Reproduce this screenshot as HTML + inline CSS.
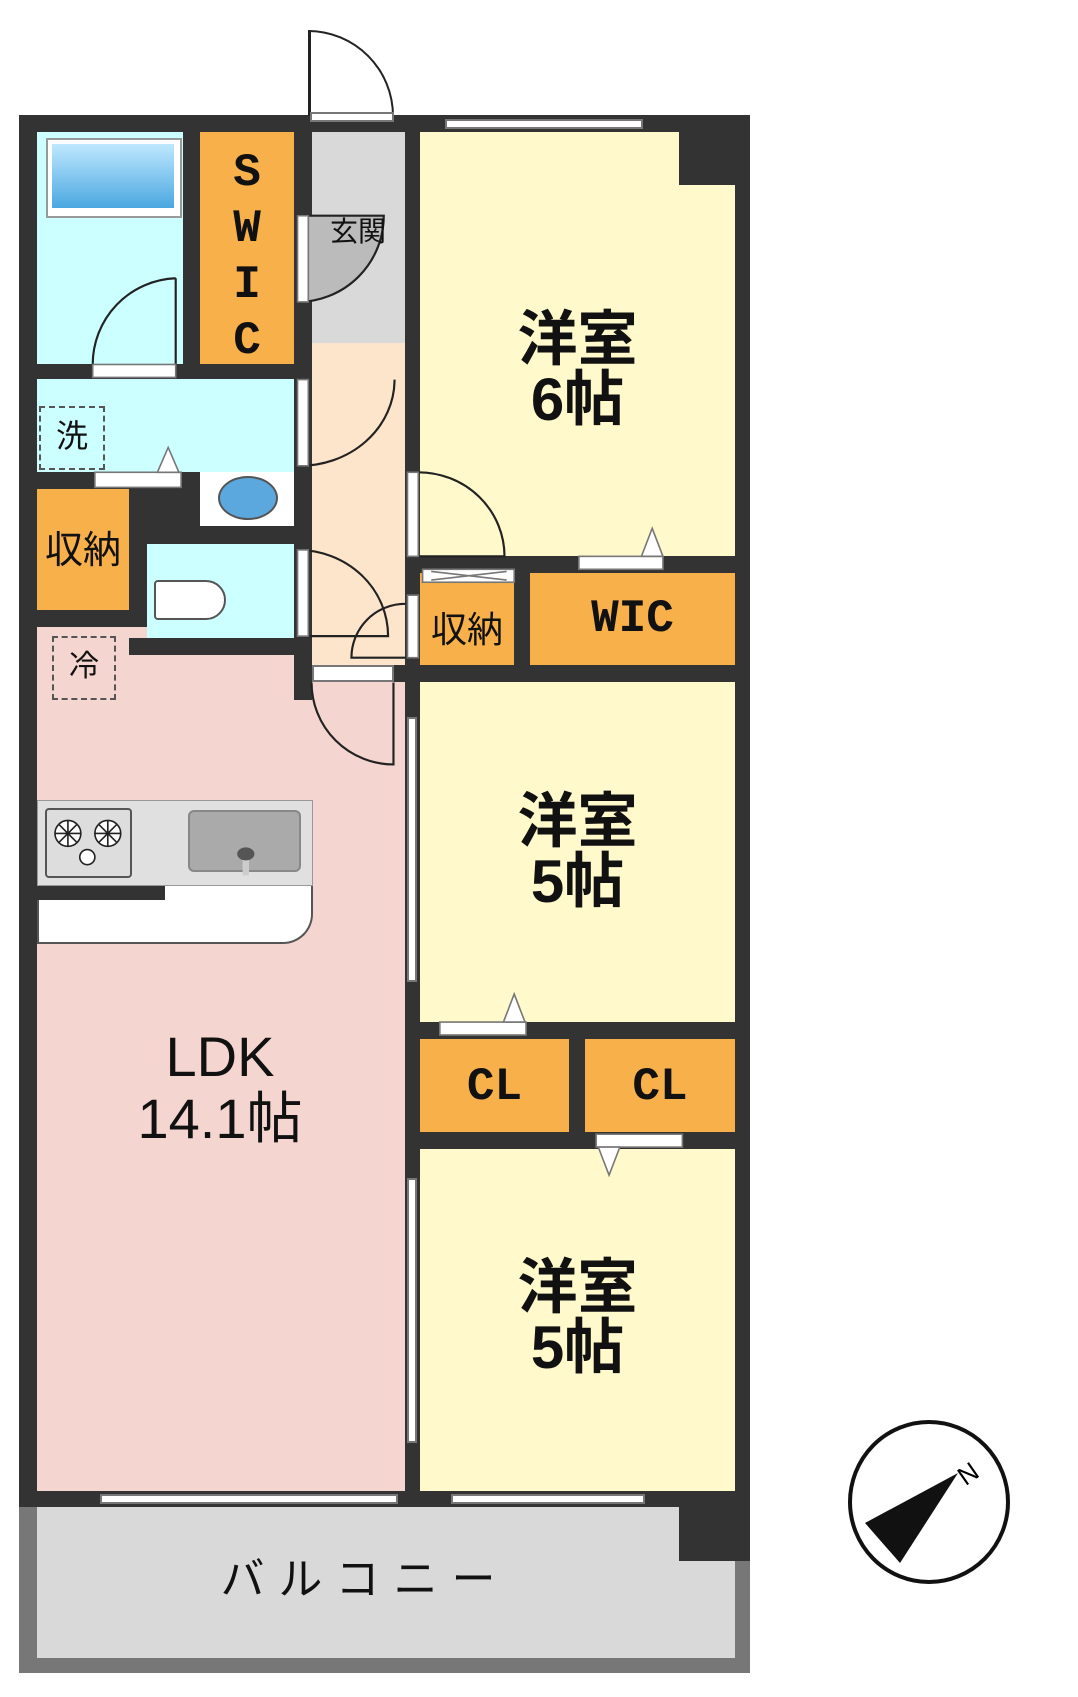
<!DOCTYPE html>
<html><head><meta charset="utf-8"><style>
body{margin:0;width:1078px;height:1697px;background:#fff;position:relative;overflow:hidden;font-family:"Liberation Sans","Noto Sans CJK JP",sans-serif}
div{position:absolute;box-sizing:border-box}
.w{background:#333}
.t{color:#111;text-align:center;font-weight:bold;line-height:1}
.win{background:#fff;border:2px solid #777}
</style></head><body>
<div class="w" style="left:19px;top:115px;width:731px;height:1392px"></div>
<div style="left:420px;top:132px;width:315px;height:424px;background:#fff9cc"></div>
<div class="w" style="left:679px;top:132px;width:56px;height:53px"></div>
<div style="left:420px;top:573px;width:94px;height:92px;background:#f7b04a"></div>
<div style="left:530px;top:573px;width:205px;height:92px;background:#f7b04a"></div>
<div style="left:420px;top:682px;width:315px;height:340px;background:#fff9cc"></div>
<div style="left:420px;top:1039px;width:149px;height:93px;background:#f7b04a"></div>
<div style="left:585px;top:1039px;width:150px;height:93px;background:#f7b04a"></div>
<div style="left:420px;top:1149px;width:315px;height:342px;background:#fff9cc"></div>
<div style="left:37px;top:132px;width:146px;height:232px;background:#ccffff"></div>
<div style="left:46px;top:138px;width:136px;height:80px;background:#fff;border:2px solid #999"></div>
<div style="left:52px;top:144px;width:122px;height:64px;background:linear-gradient(#bfe8ff,#4aa8e0)"></div>
<div style="left:200px;top:132px;width:94px;height:232px;background:#f7b04a"></div>
<div style="left:312px;top:132px;width:93px;height:211px;background:#d9d9d9"></div>
<div style="left:312px;top:343px;width:93px;height:322px;background:#fde5cc"></div>
<div style="left:37px;top:379px;width:257px;height:93px;background:#ccffff"></div>
<div style="left:37px;top:489px;width:92px;height:121px;background:#f7b04a"></div>
<div style="left:200px;top:472px;width:94px;height:54px;background:#fff"></div>
<div style="left:218px;top:476px;width:60px;height:44px;border-radius:50%;background:#5aa8dd;border:2px solid #555"></div>
<div style="left:37px;top:627px;width:275px;height:864px;background:#f5d5d0"></div>
<div style="left:312px;top:682px;width:93px;height:809px;background:#f5d5d0"></div>
<div style="left:312px;top:665px;width:82px;height:17px;background:#fff;border:2px solid #777"></div>
<div class="w" style="left:129px;top:610px;width:183px;height:17px"></div>
<div class="w" style="left:294px;top:627px;width:18px;height:73px"></div>
<div style="left:147px;top:544px;width:147px;height:94px;background:#ccffff"></div>
<div class="w" style="left:129px;top:638px;width:183px;height:17px"></div>
<div style="left:154px;top:580px;width:72px;height:40px;border:2px solid #555;border-radius:4px 20px 20px 4px;background:#fff"></div>
<div style="left:37px;top:800px;width:276px;height:86px;background:#e0e0e0;border:1px solid #999"></div>
<div style="left:45px;top:808px;width:87px;height:70px;background:#ddd;border:2px solid #555;border-radius:4px"></div>
<div style="left:188px;top:810px;width:113px;height:62px;background:#aaa;border:2px solid #888;border-radius:6px"></div>
<div style="left:37px;top:886px;width:276px;height:58px;background:#fff;border:2px solid #555;border-top:none;border-radius:0 0 30px 0"></div>
<div style="left:37px;top:886px;width:128px;height:14px;background:#333"></div>
<div style="left:19px;top:1507px;width:731px;height:166px;background:#777"></div>
<div style="left:37px;top:1507px;width:698px;height:151px;background:#d9d9d9"></div>
<div class="w" style="left:679px;top:1507px;width:71px;height:54px"></div>
<div class="win" style="left:445px;top:119px;width:198px;height:10px"></div>
<div class="win" style="left:100px;top:1494px;width:298px;height:10px"></div>
<div class="win" style="left:451px;top:1494px;width:194px;height:10px"></div>
<div class="win" style="left:407px;top:717px;width:10px;height:265px"></div>
<div class="win" style="left:407px;top:1178px;width:10px;height:265px"></div>
<div style="left:308px;top:30px;width:86px;height:86px;border:2px solid #222;border-radius:0 86px 0 0;border-bottom:none;border-left-width:3px"></div>
<div class="win" style="left:310px;top:112px;width:84px;height:10px"></div>
<svg style="position:absolute;left:0;top:0" width="1078" height="1697" viewBox="0 0 1000 1574">
<g fill="none" stroke="#222" stroke-width="2">
<path d="M163,258 L163,338 M163,258 A80,80 0 0 0 86,338"/>
<path d="M276,200 L276,280 A80,80 0 0 0 356,200 Z" fill="#bbb"/>
<path d="M276,352 L276,432 A88,80 0 0 0 366,352"/>
<path d="M276,510 A84,80 0 0 1 360,590 L276,590"/>
<path d="M376,560 A50,50 0 0 0 326,610 L376,610"/>
<path d="M289,633 A76,76 0 0 0 365,709 L365,633"/>
<path d="M388,438 A80,78 0 0 1 468,516 L388,516"/>
</g>
<g fill="#fff" stroke="#222" stroke-width="1.5">
<circle cx="63" cy="773" r="12"/><circle cx="100" cy="773" r="12"/><circle cx="81" cy="795" r="7"/>
<path d="M51,773 h24 M63,761 v24 M55,765 l16,16 M71,765 l-16,16 M88,773 h24 M100,761 v24 M92,765 l16,16 M108,765 l-16,16" />
</g>
<rect x="225" y="790" width="6" height="22" fill="#ccc"/>
<ellipse cx="228" cy="792" rx="8" ry="6" fill="#555"/>
<g fill="#fff" stroke="#777" stroke-width="1.5">
<rect x="86" y="338" width="77" height="12"/>
<rect x="276" y="200" width="10" height="80"/>
<rect x="276" y="352" width="10" height="80"/>
<rect x="276" y="510" width="10" height="80"/>
<rect x="378" y="438" width="10" height="78"/>
<rect x="378" y="552" width="10" height="58"/>
<rect x="88" y="438" width="80" height="14"/>
<rect x="537" y="516" width="78" height="12"/>
<rect x="408" y="948" width="80" height="12"/>
<rect x="553" y="1052" width="80" height="12"/>
<path d="M146,438 L156,415 L166,438 Z"/>
<path d="M595,516 L605,490 L615,516 Z"/>
<path d="M467,948 L477,922 L487,948 Z"/>
<path d="M555,1064 L565,1090 L575,1064 Z"/>
<rect x="392" y="528" width="85" height="12"/>
</g>
<path d="M400,530 L470,538 M400,538 L470,530" stroke="#777" stroke-width="1.5"/>
</svg>
<div class="t" style="left:200px;top:145px;width:94px;font-size:46px;line-height:56px;font-family:'Liberation Mono',monospace">S<br>W<br>I<br>C</div>
<div class="t" style="left:318px;top:218px;width:80px;font-size:28px;font-weight:normal">玄関</div>
<div class="t" style="left:420px;top:310px;width:315px;font-size:60px;line-height:60px">洋室<br>6帖</div>
<div class="t" style="left:420px;top:792px;width:315px;font-size:60px;line-height:60px">洋室<br>5帖</div>
<div class="t" style="left:420px;top:1258px;width:315px;font-size:60px;line-height:60px">洋室<br>5帖</div>
<div class="t" style="left:530px;top:596px;width:205px;font-size:46px;font-family:'Liberation Mono',monospace">WIC</div>
<div class="t" style="left:420px;top:612px;width:94px;font-size:36px;font-weight:normal">収納</div>
<div class="t" style="left:37px;top:532px;width:92px;font-size:38px;font-weight:normal">収納</div>
<div class="t" style="left:420px;top:1064px;width:149px;font-size:46px;font-family:'Liberation Mono',monospace">CL</div>
<div class="t" style="left:585px;top:1064px;width:150px;font-size:46px;font-family:'Liberation Mono',monospace">CL</div>
<div class="t" style="left:40px;top:1026px;width:360px;font-size:56px;line-height:62px;font-weight:normal">LDK<br>14.1帖</div>
<div class="t" style="left:40px;top:1558px;width:650px;font-size:44px;letter-spacing:14px;font-weight:normal">バルコニー</div>
<div style="left:39px;top:406px;width:66px;height:64px;border:2px dashed #555"></div>
<div class="t" style="left:39px;top:420px;width:66px;font-size:32px;font-weight:normal">洗</div>
<div style="left:52px;top:636px;width:64px;height:64px;border:2px dashed #555"></div>
<div class="t" style="left:52px;top:652px;width:64px;font-size:30px;font-weight:normal">冷</div>
<svg style="position:absolute;left:845px;top:1418px" width="170" height="170">
<ellipse cx="84" cy="84" rx="79" ry="80" fill="#fff" stroke="#111" stroke-width="4"/>
<polygon points="20,105 113,55 55,145" fill="#111"/>
<text x="116" y="66" font-size="26" font-family="Liberation Sans" transform="rotate(-35 122 60)">N</text>
</svg>
</body></html>
